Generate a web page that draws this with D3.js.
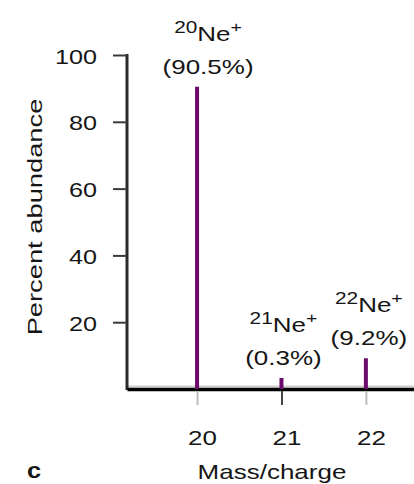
<!DOCTYPE html>
<html>
<head>
<meta charset="utf-8">
<script src="https://cdn.jsdelivr.net/npm/d3@7"></script>
<style>
  body { margin: 0; background: #fff; }
  svg { display: block; font-family: "Liberation Sans", Arial, sans-serif; }
  text { fill: #151515; }
</style>
</head>
<body>
<svg width="414" height="484"></svg>
<script>
// isotopes of neon
var masses = [20, 21, 22];
var isotopeNames = ["20", "21", "22"];
var abundanceLabels = ["90.5%", "0.3%", "9.2%"];
// bar heights as drawn in the picture (21 is drawn taller than its 0.3%)
var barHeights = [90.5, 3.3, 9.2];
var yTicks = [20, 40, 60, 80, 100];
var xTicks = [20, 21, 22];

var svg = d3.select("svg");

var plotLeft = 127, plotRight = 414, plotTop = 55, plotBottom = 389;
var stretch = 1.3;

var x = d3.scaleLinear()
    .domain([19.17, 22.57])
    .range([plotLeft, plotRight]);

var y = d3.scaleLinear()
    .domain([0, 100])
    .range([plotBottom, plotTop]);

// faint line just above the baseline
svg.append("line")
    .attr("x1", plotLeft).attr("x2", plotRight)
    .attr("y1", y(0) - 2.5).attr("y2", y(0) - 2.5)
    .attr("stroke", "#cfcfcf")
    .attr("stroke-width", 2);

// y axis
var yAxis = svg.append("g")
    .attr("transform", "translate(" + plotLeft + ",0)")
    .call(d3.axisLeft(y).tickValues(yTicks).tickFormat(d3.format("d"))
      .tickSize(14).tickSizeOuter(0));
yAxis.select(".domain")
    .attr("stroke", "#2a2a2a")
    .attr("stroke-width", 3)
    .attr("d", "M0," + (y(0) + 1) + "V" + (y(100) - 1));
yAxis.selectAll(".tick line")
    .attr("stroke", "#3a3a3a")
    .attr("stroke-width", 2);
yAxis.selectAll(".tick text")
    .attr("x", null)
    .attr("dy", null)
    .attr("transform", "translate(-30,8) scale(1.26,1)")
    .attr("font-size", 20)
    .attr("text-anchor", "end")
    .attr("fill", "#151515");

// x axis
var xAxis = svg.append("g")
    .attr("transform", "translate(0," + y(0) + ")")
    .call(d3.axisBottom(x).tickValues(xTicks).tickFormat(d3.format("d"))
      .tickSize(16).tickSizeOuter(0));
xAxis.select(".domain")
    .attr("stroke", "#000")
    .attr("stroke-width", 3.5);
xAxis.selectAll(".tick line")
    .attr("stroke", function(d) { return d === 21 ? "#444" : "#bdbdbd"; })
    .attr("stroke-width", 2)
    .attr("y1", 2);
xAxis.selectAll(".tick text")
    .attr("y", null)
    .attr("dy", null)
    .attr("transform", "translate(5,56) scale(" + stretch + ",1)")
    .attr("font-size", 20)
    .attr("fill", "#151515");
svg.selectAll(".domain").attr("fill", "none");

// bars
svg.selectAll(".bar")
    .data(masses)
  .enter().append("rect")
    .attr("class", "bar")
    .attr("x", function(d) { return x(d) - 2; })
    .attr("y", function(d, i) { return y(barHeights[i]); })
    .attr("width", 4)
    .attr("height", function(d, i) { return y(0) - y(barHeights[i]); })
    .attr("fill", "#6c0b6c");

// labels above bars
var nudge = [11, 2, 3];
var labels = svg.selectAll(".lbl")
    .data(masses)
  .enter().append("g")
    .attr("class", "lbl")
    .attr("transform", function(d, i) {
      return "translate(" + (x(d) + nudge[i]) + "," + y(barHeights[i]) + ")";
    });

var ion = labels.append("text")
    .attr("text-anchor", "middle")
    .attr("transform", "translate(0,-46) scale(" + stretch + ",1)");
ion.append("tspan")
    .attr("font-size", 16)
    .attr("dy", -8)
    .text(function(d, i) { return isotopeNames[i]; });
ion.append("tspan")
    .attr("font-size", 20)
    .attr("dy", 8)
    .text("Ne");
ion.append("tspan")
    .attr("font-size", 15)
    .attr("dy", -9)
    .text("+");

labels.append("text")
    .attr("text-anchor", "middle")
    .attr("font-size", 20)
    .attr("transform", "translate(0,-13) scale(" + stretch + ",1)")
    .text(function(d, i) { return "(" + abundanceLabels[i] + ")"; });

// axis titles
svg.append("text")
    .attr("text-anchor", "middle")
    .attr("font-size", 20)
    .attr("transform", "translate(272,479) scale(" + stretch + ",1)")
    .text("Mass/charge");

svg.append("text")
    .attr("text-anchor", "middle")
    .attr("font-size", 21)
    .attr("transform", "translate(42,217) rotate(-90) scale(" + stretch + ",1)")
    .text("Percent abundance");

svg.append("text")
    .attr("text-anchor", "middle")
    .attr("font-size", 22)
    .attr("font-weight", "bold")
    .attr("transform", "translate(34,478) scale(1.15,1)")
    .text("c");
</script>
</body>
</html>
